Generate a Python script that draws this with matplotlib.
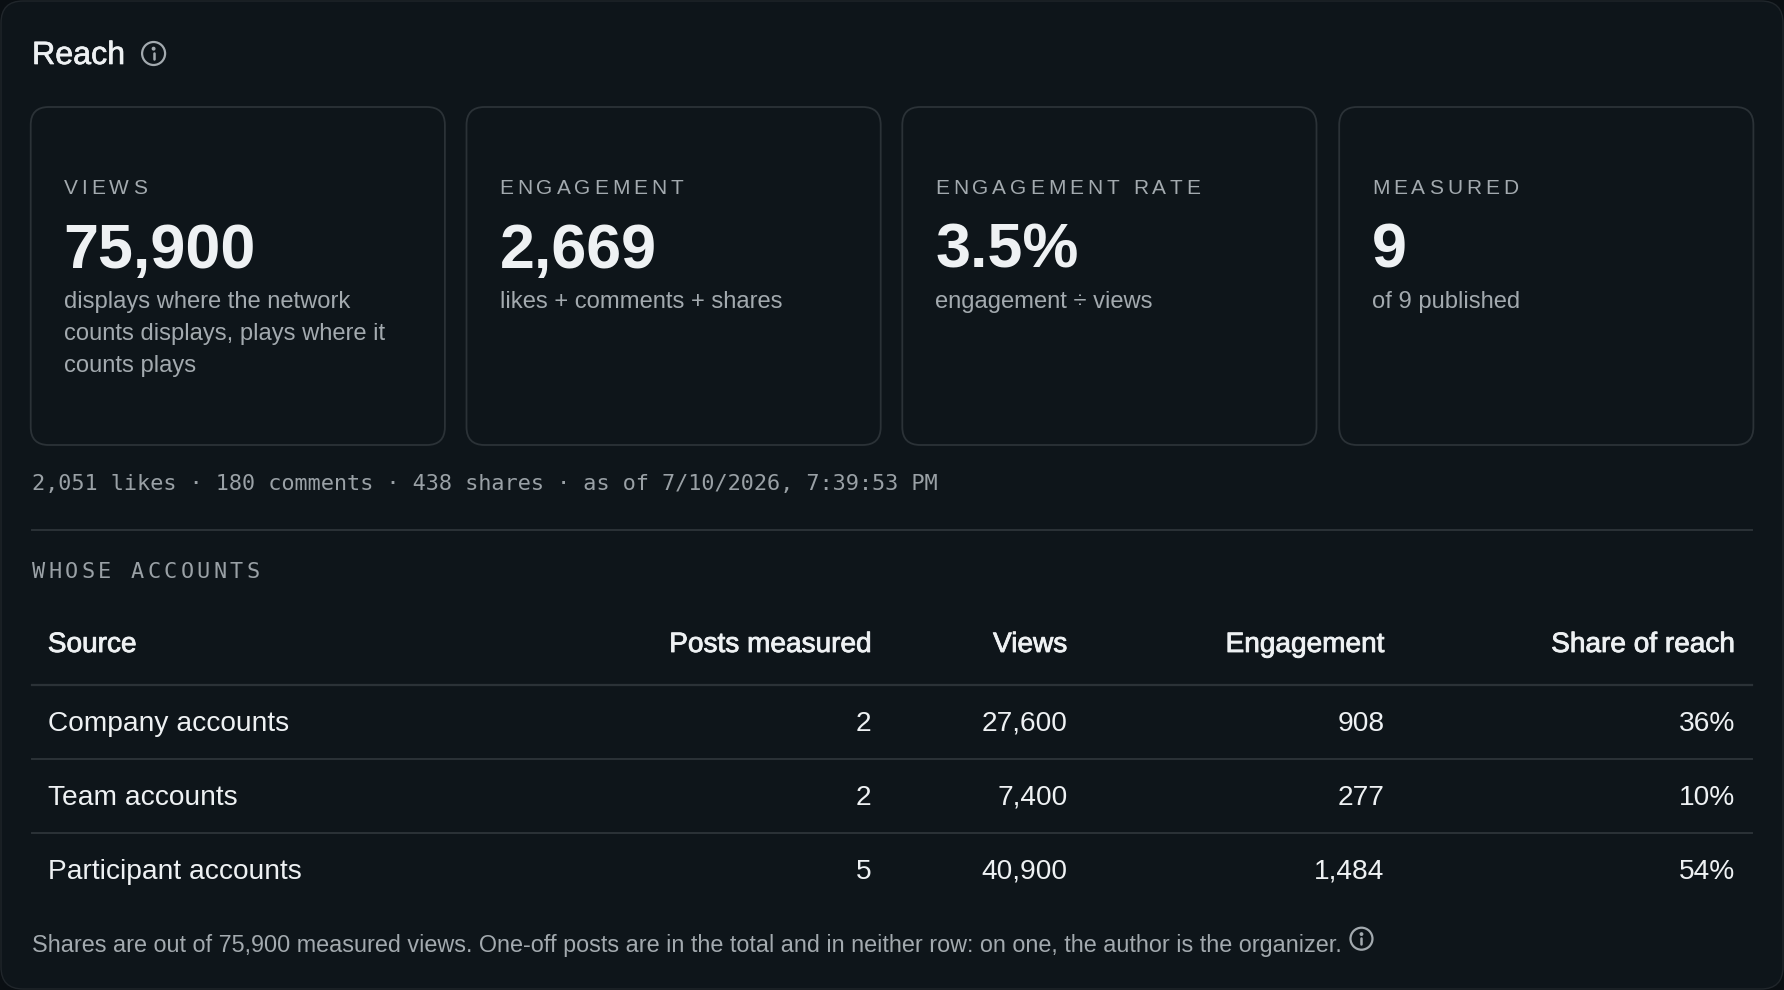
import matplotlib
matplotlib.use("Agg")
import matplotlib.pyplot as plt
import matplotlib.patheffects as pe
from matplotlib.patches import FancyBboxPatch, Circle
from matplotlib.font_manager import FontProperties, findfont, get_font

# ---------------- data ----------------
title = "Reach"
kpi_labels = ["VIEWS", "ENGAGEMENT", "ENGAGEMENT RATE", "MEASURED"]
kpi_values = ["75,900", "2,669", "3.5%", "9"]
kpi_notes = [
    ["displays where the network", "counts displays, plays where it", "counts plays"],
    ["likes + comments + shares"],
    ["engagement \u00f7 views"],
    ["of 9 published"],
]
likes, comments, shares = 2051, 180, 438
as_of = "7/10/2026, 7:39:53 PM"
section_label = "WHOSE ACCOUNTS"
columns = ["Source", "Posts measured", "Views", "Engagement", "Share of reach"]
sources = ["Company accounts", "Team accounts", "Participant accounts"]
posts_measured = [2, 2, 5]
views = [27600, 7400, 40900]
engagement = [908, 277, 1484]
share_of_reach = [36, 10, 54]
footnote = ("Shares are out of 75,900 measured views. One-off posts are in the total "
            "and in neither row: on one, the author is the organizer.")

# ---------------- style ----------------
W, H = 1784, 990
BG = "#0e151a"
OUTER = "#0a0f13"
BORDER = "#2b3237"
WHITE = "#eef1f3"
GRAY = "#a3aaaf"
MONO_GRAY = "#9aa1a6"
SANS = "Liberation Sans"
MONO = "DejaVu Sans Mono"

fig = plt.figure(figsize=(W / 100, H / 100), dpi=100, facecolor=OUTER)
ax = fig.add_axes([0, 0, 1, 1])
ax.set_xlim(0, W)
ax.set_ylim(H, 0)
ax.axis("off")


def fp_of(family, weight="normal"):
    return FontProperties(family=family, weight=weight)


def str_width(s, fp, size):
    f = get_font(findfont(fp))
    f.set_size(size, 100)
    total = 0.0
    for ch in s:
        g = f.load_char(ord(ch))
        total += g.linearHoriAdvance / 65536
    return total


def fit_size(s, fp, target):
    return 10.0 * target / str_width(s, fp, 10.0)


def spaced_text(x, y, s, fp, size, spacing, color):
    f = get_font(findfont(fp))
    f.set_size(size, 100)
    for ch in s:
        ax.text(x, y, ch, fontproperties=fp, fontsize=size, color=color,
                ha="left", va="baseline")
        g = f.load_char(ord(ch))
        x += g.linearHoriAdvance / 65536 + spacing


def info_icon(cx, cy, r, color):
    ax.add_patch(Circle((cx, cy), r, facecolor="none", edgecolor=color, lw=1.6))
    ax.plot([cx, cx], [cy - r * 0.05, cy + r * 0.5], color=color, lw=1.8,
            solid_capstyle="round")
    ax.add_patch(Circle((cx, cy - r * 0.42), r * 0.11, color=color))


# outer card
ax.add_patch(FancyBboxPatch((1, 1), W - 2, H - 2,
                            boxstyle="round,pad=0,rounding_size=22",
                            facecolor=BG, edgecolor="#20262b", lw=1.0))

sans = fp_of(SANS)
sans_b = fp_of(SANS, "bold")
mono = fp_of(MONO)

# title
title_size = fit_size(title, sans, 93)
ax.text(32, 64, title, fontproperties=sans, fontsize=title_size, color=WHITE,
        ha="left", va="baseline",
        path_effects=[pe.withStroke(linewidth=0.5, foreground=WHITE)])
info_icon(153.6, 53.5, 11.5, GRAY)

# KPI cards
card_x = [30.7, 466.5, 902.3, 1339.2]
card_w = 414.2
card_top, card_bot = 107, 445
label_size = 15.0
lab_nat = str_width("ENGAGEMENT RATE", sans, label_size)
label_spacing = (265 - lab_nat) / 14
value_size = fit_size("75,900", sans_b, 192)
note_size = fit_size("likes + comments + shares", sans, 282)
for i, cx in enumerate(card_x):
    ax.add_patch(FancyBboxPatch((cx, card_top), card_w, card_bot - card_top,
                                boxstyle="round,pad=0,rounding_size=18",
                                facecolor=BG, edgecolor=BORDER, lw=1.3))
    tx = cx + 33
    spaced_text(tx, 194, kpi_labels[i], sans, label_size, label_spacing, GRAY)
    ax.text(tx, 268, kpi_values[i], fontproperties=sans_b, fontsize=value_size,
            color=WHITE, ha="left", va="baseline")
    for j, line in enumerate(kpi_notes[i]):
        ax.text(tx, 308 + 32 * j, line, fontproperties=sans, fontsize=note_size,
                color=GRAY, ha="left", va="baseline")

# mono stats line
stats = (f"{likes:,} likes \u00b7 {comments:,} comments \u00b7 {shares:,} shares "
         f"\u00b7 as of {as_of}")
mono_size = fit_size(stats, mono, 908)
ax.text(32, 490, stats, fontproperties=mono, fontsize=mono_size, color=MONO_GRAY,
        ha="left", va="baseline")

# divider
ax.plot([32, 1752], [530.2, 530.2], color=BORDER, lw=1.4)

# section label
sec_nat = str_width(section_label, mono, mono_size)
sec_spacing = (227.5 - sec_nat) / 13
spaced_text(32, 578, section_label, mono, mono_size, sec_spacing, MONO_GRAY)

# table
col_x = [47.8, 871.6, 1067.3, 1384.7, 1735.2]
col_ha = ["left", "right", "right", "right", "right"]
head_size = 0.5 * (fit_size("Share of reach", sans, 181) +
                   fit_size("Posts measured", sans, 205))
row_size = fit_size("Company accounts", sans, 241)
for c, name in enumerate(columns):
    ax.text(col_x[c], 652, name, fontproperties=sans, fontsize=head_size,
            color=WHITE, ha=col_ha[c], va="baseline",
            path_effects=[pe.withStroke(linewidth=0.6, foreground=WHITE)])
ax.plot([32, 1752], [685, 685], color=BORDER, lw=1.6)

row_base = [731, 805, 879]
row_lines = [759, 833]
for r, src in enumerate(sources):
    cells = [src, f"{posts_measured[r]:,}", f"{views[r]:,}",
             f"{engagement[r]:,}", f"{share_of_reach[r]}%"]
    for c, val in enumerate(cells):
        ax.text(col_x[c], row_base[r], val, fontproperties=sans, fontsize=row_size,
                color=WHITE, ha=col_ha[c], va="baseline")
for yl in row_lines:
    ax.plot([32, 1752], [yl, yl], color=BORDER, lw=1.4)

# footnote
foot_size = fit_size(footnote, sans, 1309)
ax.text(32, 952, footnote, fontproperties=sans, fontsize=foot_size, color=GRAY,
        ha="left", va="baseline")
foot_end = 32 + str_width(footnote, sans, foot_size)
info_icon(foot_end + 21, 938.7, 11, GRAY)

fig.savefig("out.png", dpi=100, facecolor=OUTER)
